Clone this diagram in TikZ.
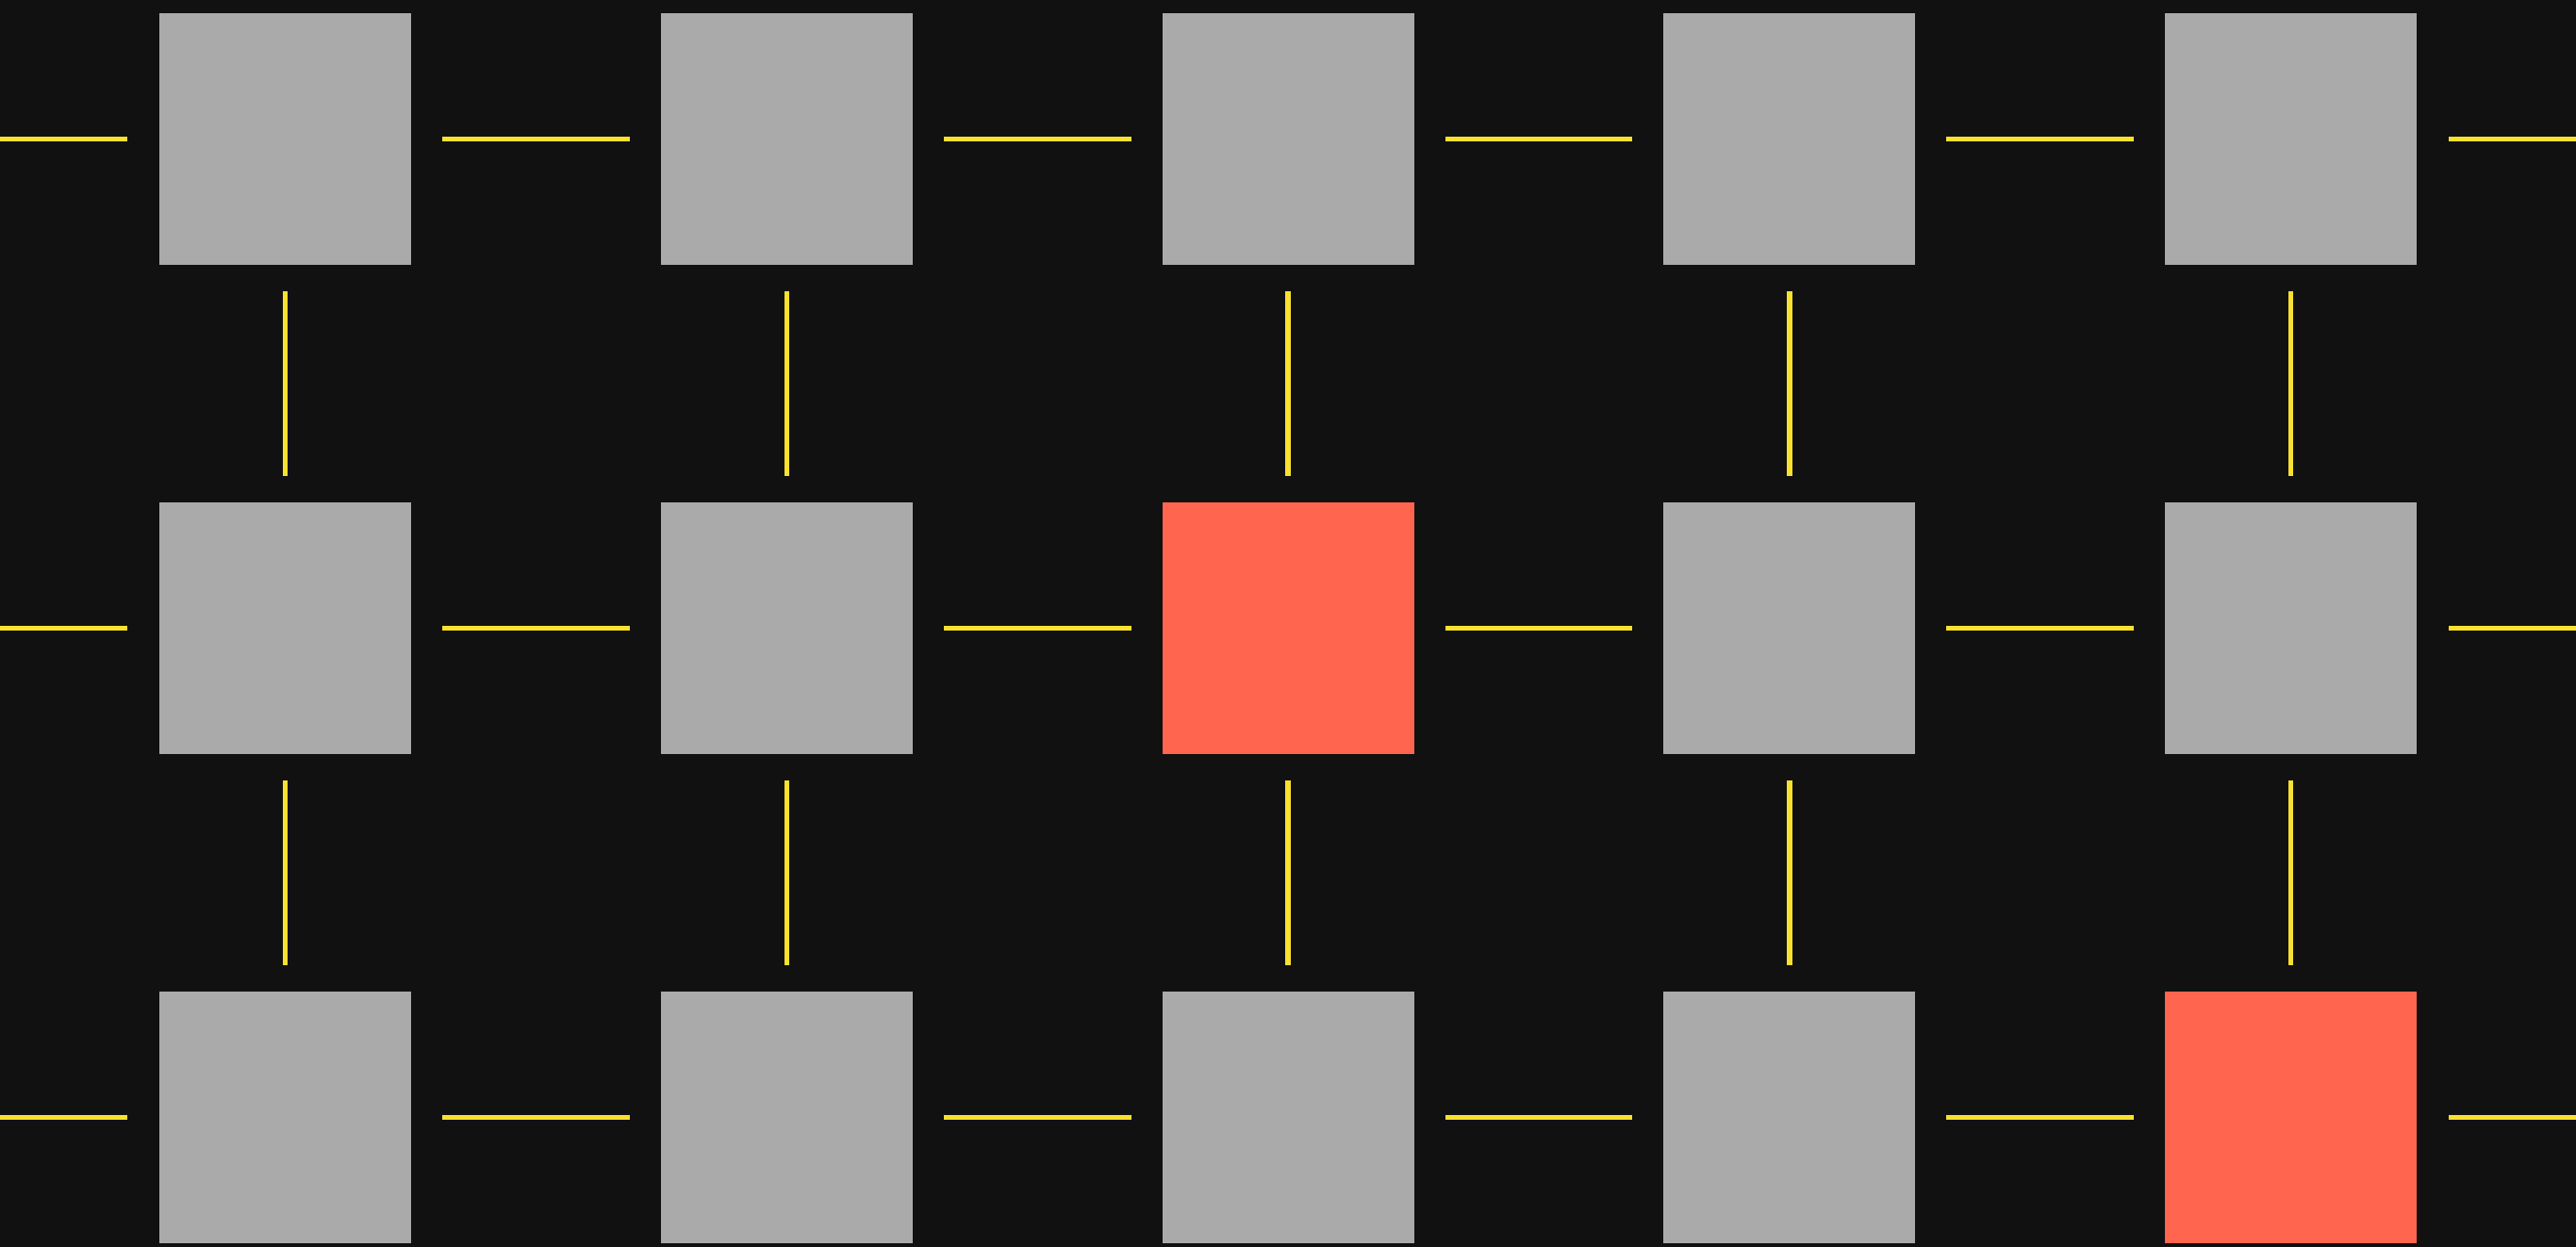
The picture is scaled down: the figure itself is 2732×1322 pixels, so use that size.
\documentclass[tikz,border=0pt]{standalone}
\definecolor{bg}{HTML}{111111}
\definecolor{cellgray}{HTML}{AAAAAA}
\definecolor{hot}{HTML}{FF654F}
\definecolor{wirey}{HTML}{F8E12F}
\begin{document}
\begin{tikzpicture}[x=1pt,y=-1pt,
  cellbox/.style={minimum size=267pt, inner sep=0pt, outer sep=0pt, fill=cellgray, draw=none},
  hotbox/.style={cellbox, fill=hot},
  wire/.style={draw=wirey, line width=5.5pt}]
\useasboundingbox (0,0) rectangle (2732,1322);
\fill[bg] (-20,-20) rectangle (2752,1342);
% cells
\foreach \i/\j/\s in {1/1/cellbox,2/1/cellbox,3/1/cellbox,4/1/cellbox,5/1/cellbox,
                      1/2/cellbox,2/2/cellbox,3/2/hotbox,4/2/cellbox,5/2/cellbox,
                      1/3/cellbox,2/3/cellbox,3/3/cellbox,4/3/cellbox,5/3/hotbox}
  \node[\s] (n\i\j) at ({302.5+531.75*(\i-1)},{147.3+519*(\j-1)}) {};
% horizontal wires
\foreach \j in {1,2,3} {
  \foreach \i [evaluate=\i as \k using int(\i+1)] in {1,...,4}
    \draw[wire] ([xshift=33pt]n\i\j.east) -- ([xshift=-33pt]n\k\j.west);
  \coordinate (l\j) at (-10,{147.3+519*(\j-1)});
  \coordinate (r\j) at (2742,{147.3+519*(\j-1)});
  \draw[wire] (l\j) -- ([xshift=-34pt]n1\j.west);
  \draw[wire] ([xshift=34pt]n5\j.east) -- (r\j);
}
% vertical wires
\foreach \i in {1,...,5} {
  \foreach \j [evaluate=\j as \k using int(\j+1)] in {1,2}
    \draw[wire] ([yshift=-28pt]n\i\j.south) -- ([yshift=28pt]n\i\k.north);
}
\end{tikzpicture}
\end{document}
